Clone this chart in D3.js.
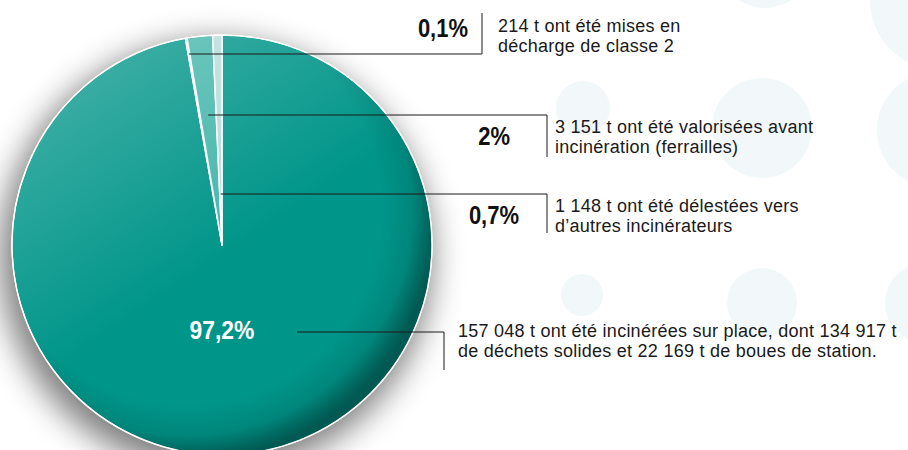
<!DOCTYPE html>
<html lang="fr">
<head>
<meta charset="UTF-8">
<title>Devenir des déchets réceptionnés</title>
<script src="https://d3js.org/d3.v7.min.js"></script>
<style>
  body { margin: 0; background: #fff; }
  svg { display: block; font-family: "Liberation Sans", Arial, sans-serif; }
  .pct { font-weight: bold; }
  .desc { letter-spacing: 0.25px; }
</style>
</head>
<body>
<div id="chart"></div>
<script>
// values (tonnes), in pie order clockwise from 12 o'clock
const categories = ["incinérées sur place", "décharge de classe 2", "valorisées avant incinération", "délestées"];
const tonnes = [157048, 214, 3151, 1148];
const percentLabels = ["97,2%", "0,1%", "2%", "0,7%"];
const descriptions = [
  ["157 048 t ont été incinérées sur place, dont 134 917 t", "de déchets solides et 22 169 t de boues de station."],
  ["214 t ont été mises en", "décharge de classe 2"],
  ["3 151 t ont été valorisées avant", "incinération (ferrailles)"],
  ["1 148 t ont été délestées vers", "d’autres incinérateurs"]
];
const sliceColors = ["#009589", "#6cc4bb", "#45b6ab", "#b6dcd8"];

const width = 908, height = 450;
const cx = 222, cy = 245, radius = 210;

// where each callout goes
const callouts = [
  { lineY: 332, startX: 297, elbowX: 444, endY: 370, labelX: 222, labelY: 339, anchor: "middle", size: 26, fill: "#fff", textX: 458, textY: 337 },
  { lineY: 54, elbowX: 482, endY: 13, labelX: 468, labelY: 37, anchor: "end", size: 25, fill: "#111", textX: 498, textY: 32 },
  { lineY: 115, elbowX: 547, endY: 157, labelX: 510, labelY: 145, anchor: "end", size: 25, fill: "#111", textX: 555, textY: 133 },
  { lineY: 194, elbowX: 547, endY: 233, labelX: 519, labelY: 224, anchor: "end", size: 25, fill: "#111", textX: 555, textY: 212 }
];

const svg = d3.select("#chart").append("svg")
  .attr("width", width)
  .attr("height", height);

const defs = svg.append("defs");

// dark rim on the right / bottom, light side top-left
const rim = defs.append("radialGradient")
  .attr("id", "rim")
  .attr("gradientUnits", "userSpaceOnUse")
  .attr("cx", -35).attr("cy", -35).attr("r", 250);
[[0, "#000", 0], [0.78, "#000", 0], [0.9, "#000", 0.1], [0.97, "#000", 0.32], [1, "#000", 0.4]]
  .forEach(s => rim.append("stop").attr("offset", s[0]).attr("stop-color", s[1]).attr("stop-opacity", s[2]));

const gloss = defs.append("linearGradient")
  .attr("id", "gloss")
  .attr("x1", 0).attr("y1", 0).attr("x2", 0.4).attr("y2", 0.6);
gloss.append("stop").attr("offset", 0).attr("stop-color", "#fff").attr("stop-opacity", 0.3);
gloss.append("stop").attr("offset", 1).attr("stop-color", "#fff").attr("stop-opacity", 0);

const shadow = defs.append("filter")
  .attr("id", "shadow")
  .attr("x", "-30%").attr("y", "-30%").attr("width", "160%").attr("height", "160%");
shadow.append("feGaussianBlur").attr("stdDeviation", 16);

// faint background bubbles
const bubbles = [[765, -40, 48], [940, 0, 70], [762, 128, 50], [935, 130, 58], [583, 108, 27], [582, 295, 21], [762, 303, 35], [925, 303, 40]];
svg.append("g").selectAll("circle")
  .data(bubbles)
  .join("circle")
  .attr("cx", d => d[0]).attr("cy", d => d[1]).attr("r", d => d[2])
  .attr("fill", "#f2f8f9");

// soft shadow under the pie
svg.append("circle")
  .attr("cx", cx - 6).attr("cy", cy + 12).attr("r", radius + 6)
  .attr("fill", "#000")
  .attr("opacity", 0.5)
  .attr("filter", "url(#shadow)");

const pie = d3.pie().sort(null).value(d => d);
const arcs = pie(tonnes);
const arc = d3.arc().innerRadius(0).outerRadius(radius);

const g = svg.append("g").attr("transform", `translate(${cx},${cy})`);

g.selectAll("path.slice")
  .data(arcs)
  .join("path")
  .attr("class", "slice")
  .attr("d", arc)
  .attr("fill", (d, i) => sliceColors[i])
  .attr("stroke", "#fff")
  .attr("stroke-width", 1.4)
  .attr("stroke-linejoin", "round");

g.append("circle")
  .attr("r", radius)
  .attr("fill", "url(#rim)")
  .attr("pointer-events", "none");

g.append("circle")
  .attr("r", radius)
  .attr("fill", "url(#gloss)")
  .attr("pointer-events", "none");

g.append("circle")
  .attr("r", radius)
  .attr("fill", "none")
  .attr("stroke", "#fff")
  .attr("stroke-width", 1.2);

// callouts
const lines = svg.append("g")
  .attr("fill", "none")
  .attr("stroke", "#1a1a1a")
  .attr("stroke-width", 1);

arcs.forEach((d, i) => {
  const c = callouts[i];
  let x0 = c.startX;
  if (x0 === undefined) {
    const mid = (d.startAngle + d.endAngle) / 2;
    x0 = cx + (cy - c.lineY) * Math.tan(mid);
  }
  lines.append("path")
    .attr("d", `M${x0},${c.lineY}H${c.elbowX}V${c.endY}`);

  // condensed look for the percentages
  svg.append("g")
    .attr("transform", `translate(${c.labelX},${c.labelY}) scale(0.88,1)`)
    .append("text")
    .attr("class", "pct")
    .attr("text-anchor", c.anchor)
    .attr("font-size", c.size)
    .attr("fill", c.fill)
    .text(percentLabels[i]);

  const t = svg.append("text")
    .attr("class", "desc")
    .attr("x", c.textX).attr("y", c.textY)
    .attr("font-size", 18)
    .attr("fill", "#1a1a1a");
  descriptions[i].forEach((line, k) => {
    t.append("tspan")
      .attr("x", c.textX)
      .attr("dy", k === 0 ? 0 : 19.5)
      .text(line);
  });
});
</script>
</body>
</html>
